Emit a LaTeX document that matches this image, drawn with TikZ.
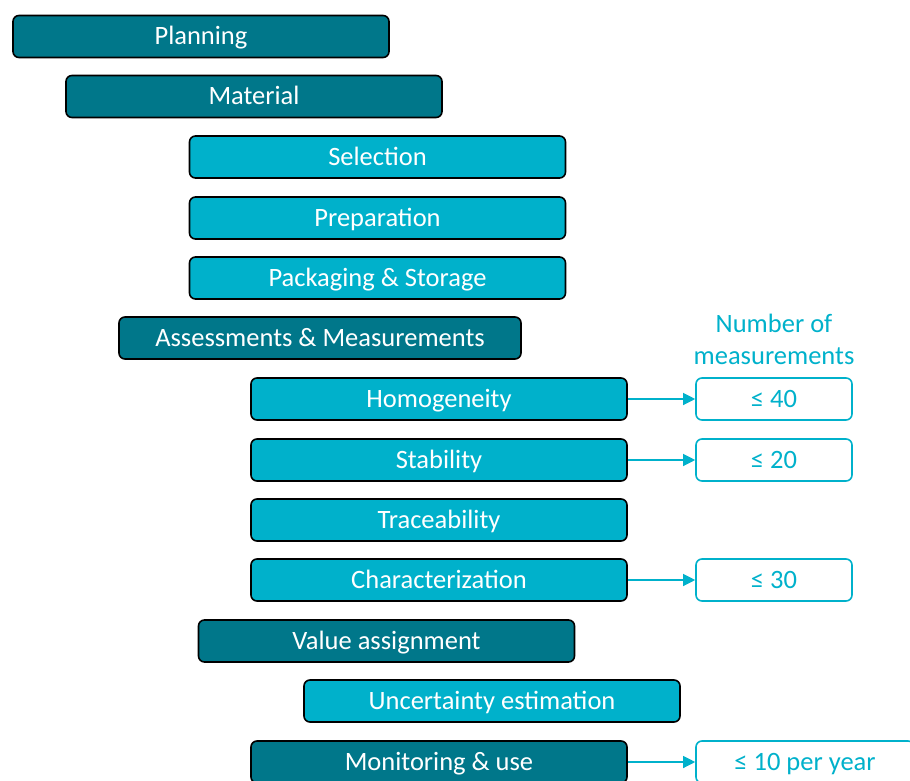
\documentclass[tikz,border=0pt]{standalone}
\usepackage{fontspec}
\setmainfont{Carlito}
\usepackage{tikz}
\usetikzlibrary{arrows.meta}

\definecolor{darkteal}{HTML}{00778A}
\definecolor{lightteal}{HTML}{00B1CB}

\tikzset{
  stagebox/.style={draw=black, line width=1.6pt, rounded corners=6pt,
    minimum width=376pt, minimum height=42pt, text=white,
    text height=18pt, text depth=1pt,
    font=\fontsize{26.5}{30}\selectfont, inner sep=0pt},
  darkbox/.style={stagebox, fill=darkteal},
  lightbox/.style={stagebox, fill=lightteal},
  countbox/.style={draw=lightteal, line width=1.6pt, rounded corners=6pt, fill=white,
    minimum width=156pt, minimum height=42pt, text=lightteal,
    text height=18pt, text depth=1pt,
    font=\fontsize{26.5}{30}\selectfont, inner sep=0pt},
  countarrow/.style={-{Triangle[length=12pt,width=12pt]}, lightteal, line width=1.2pt}
}

\begin{document}
\begin{tikzpicture}[x=1pt, y=-1pt]

  \useasboundingbox (0, 0) rectangle (910, 781);

	% stages
	\node[darkbox] (planning) at (201, 36.5) {Planning};
	\node[darkbox] (material) at (254, 96.5) {Material};
	\node[lightbox] (selection) at (377.5, 157) {Selection};
	\node[lightbox] (preparation) at (377.5, 218) {Preparation};
	\node[lightbox] (packaging) at (377.5, 278) {Packaging \& Storage};
	\node[darkbox, minimum width=402pt] (assessments) at (320, 338) {Assessments \& Measurements};
	\node[lightbox] (homogeneity) at (439, 399) {Homogeneity};
	\node[lightbox] (stability) at (439, 460) {Stability};
	\node[lightbox] (traceability) at (439, 520) {Traceability};
	\node[lightbox] (characterization) at (439, 580) {Characterization};
	\node[darkbox] (value) at (386.5, 641) {Value assignment};
	\node[lightbox] (uncertainty) at (492, 701) {Uncertainty estimation};
	\node[darkbox] (monitoring) at (439, 762) {Monitoring \& use};

	% number of measurements
	\node[text=lightteal, align=center, font=\fontsize{26.5}{32}\selectfont] (header) at (774, 339) {Number of\\measurements};

	\node[countbox] (homcount) at (774, 399) {≤ 40};
	\node[countbox] (stabcount) at (774, 460) {≤ 20};
	\node[countbox] (charcount) at (774, 580) {≤ 30};
	\node[countbox, minimum width=218pt] (moncount) at (805, 762) {≤ 10 per year};

	\draw[countarrow] (homogeneity) -- (homcount);
	\draw[countarrow] (stability) -- (stabcount);
	\draw[countarrow] (characterization) -- (charcount);
	\draw[countarrow] (monitoring) -- (moncount);

\end{tikzpicture}
\end{document}
